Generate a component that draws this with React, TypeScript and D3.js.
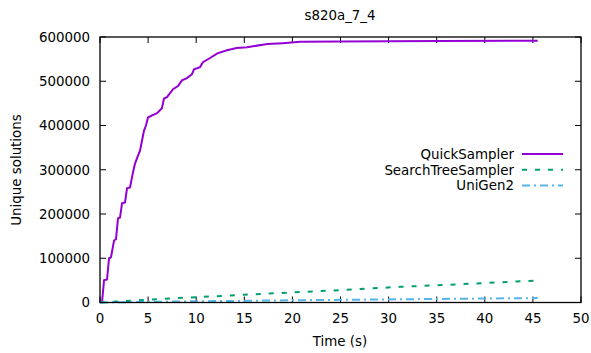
import React from "react";
import * as d3 from "d3";

const quickT = [0.21, 0.42, 0.73, 0.94, 1.14, 1.46, 1.66, 1.87, 2.08, 2.29, 2.6, 2.81, 3.12, 3.43, 3.64, 3.95, 4.16, 4.37, 4.57, 4.78, 4.99, 5.41, 5.93, 6.44, 6.65, 6.96, 7.28, 7.59, 8.11, 8.52, 9.04, 9.56, 9.77, 10.4, 10.7, 11.4, 12.2, 13.2, 14.2, 15.3, 17.4, 19.0, 20.8, 25, 35.3, 45.5];
const quickV = [0, 50000, 52000, 100000, 102000, 140000, 143000, 190000, 192000, 224000, 226000, 258000, 260000, 294000, 314000, 332000, 343000, 366000, 388000, 400000, 418000, 423000, 428000, 439000, 461000, 464000, 473000, 482000, 489000, 502000, 507000, 516000, 527000, 532000, 543000, 552000, 563000, 570000, 575000, 577000, 584000, 586000, 589000, 590000, 591000, 591500];

const stsT = [0, 5, 10, 15, 19.75, 25.6, 31.2, 35.5, 39.8, 45.5];
const stsV = [0, 6500, 12000, 17500, 22600, 28700, 35400, 39300, 43800, 49700];

const uniT = [0, 5, 10, 15, 20, 25, 30, 35, 40, 45.5];
const uniV = [0, 1500, 2700, 3800, 5000, 6000, 7000, 8000, 9000, 10000];

const xTicks = [0, 5, 10, 15, 20, 25, 30, 35, 40, 45, 50];
const yTicks = [0, 100000, 200000, 300000, 400000, 500000, 600000];

const seriesNames = ["QuickSampler", "SearchTreeSampler", "UniGen2"];
const seriesColors = ["#9400d3", "#009e73", "#56b4e9"];
const seriesDash = ["", "5,8", "8,4,2,4"];

export default function App() {
  const L = 100, R = 581, T = 37, B = 302.5;
  const x = d3.scaleLinear().domain([0, 50]).range([L, R]);
  const y = d3.scaleLinear().domain([0, 600000]).range([B, T]);
  const line = d3.line<[number, number]>().x(d => x(d[0])).y(d => y(d[1]));
  const data = [
    quickT.map((t, i) => [t, quickV[i]] as [number, number]),
    stsT.map((t, i) => [t, stsV[i]] as [number, number]),
    uniT.map((t, i) => [t, uniV[i]] as [number, number]),
  ];
  const font = "'DejaVu Sans', sans-serif";
  const tl = 6;
  return (
    <svg width={591} height={353} style={{ position: "absolute", left: 0, top: 0, background: "#fff" }} fontFamily={font} fontSize={13.4}>
      <rect x={0} y={0} width={591} height={353} fill="#fff" />
      {xTicks.map(t => (
        <g key={"x" + t}>
          <line x1={x(t)} x2={x(t)} y1={B} y2={B - tl} stroke="#000" />
          <line x1={x(t)} x2={x(t)} y1={T} y2={T + tl} stroke="#000" />
          <text x={x(t)} y={323} textAnchor="middle" fill="#000">{t}</text>
        </g>
      ))}
      {yTicks.map(t => (
        <g key={"y" + t}>
          <line x1={L} x2={L + tl} y1={y(t)} y2={y(t)} stroke="#000" />
          <line x1={R} x2={R - tl} y1={y(t)} y2={y(t)} stroke="#000" />
          <text x={90} y={y(t) + 4.8} textAnchor="end" fill="#000">{t}</text>
        </g>
      ))}
      {data.map((d, i) => (
        <path key={i} d={line(d) || ""} fill="none" stroke={seriesColors[i]} strokeWidth={2} strokeDasharray={seriesDash[i] || undefined} />
      ))}
      <rect x={L} y={T} width={R - L} height={B - T} fill="none" stroke="#000" strokeWidth={1.3} />
      {seriesNames.map((n, i) => (
        <g key={n}>
          <text x={514} y={154 + i * 15.7 + 4.8} textAnchor="end" fill="#000">{n}</text>
          <line x1={522} x2={563} y1={154 + i * 15.7} y2={154 + i * 15.7} stroke={seriesColors[i]} strokeWidth={2} strokeDasharray={seriesDash[i] || undefined} />
        </g>
      ))}
      <text x={340} y={19.5} textAnchor="middle" fill="#000">s820a_7_4</text>
      <text x={340} y={346} textAnchor="middle" fill="#000">Time (s)</text>
      <text transform="translate(21,170) rotate(-90)" textAnchor="middle" fill="#000">Unique solutions</text>
    </svg>
  );
}
